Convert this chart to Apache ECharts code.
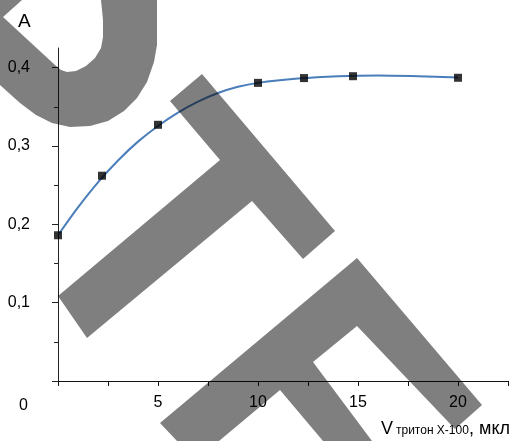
<!DOCTYPE html>
<html>
<head>
<meta charset="utf-8">
<script src="https://cdn.jsdelivr.net/npm/echarts@6/dist/echarts.min.js"></script>
<style>
  html, body { margin: 0; padding: 0; background: #fff; }
  #chart { width: 516px; height: 441px; }
</style>
</head>
<body>
<div id="chart"></div>
<script>
// Measured points: Triton X-100 volume (µl) vs absorbance A
const volume = [0, 2.2, 5, 10, 12.3, 14.75, 20];
const absorbance = [0.186, 0.262, 0.327, 0.3805, 0.3866, 0.389, 0.387];

// Fitted curve, sampled along its drawn path
const curveVolume = [0, 1, 2, 3, 4, 5, 6, 7, 8, 9, 10, 12, 14, 16, 18, 20];
const curveAbsorbance = [0.186, 0.2215, 0.2535, 0.2815, 0.3055, 0.3255, 0.3425, 0.3565, 0.3675, 0.3755, 0.3805, 0.386, 0.389, 0.390, 0.389, 0.3875];

// Axis ticks and labels
const xTicks = [0, 2.5, 5, 7.5, 10, 12.5, 15, 17.5, 20, 22.5];
const xTickLabels = [5, 10, 15, 20];
const yMajorTicks = [0, 0.1, 0.2, 0.3, 0.4];
const yMinorTicks = [0.05, 0.15, 0.25, 0.35];
const yTickLabels = [0.1, 0.2, 0.3, 0.4];
const originLabel = '0';
const yAxisTitle = 'A';
const xAxisTitleMain = 'V';
const xAxisTitleSub = 'тритон X-100';
const xAxisTitleUnit = ', мкл';

// Grey overlay shapes (pixel outlines)
const shapeRound = [[0,0],[22,0],[3,17],[55,65],[61,70],[67,72],[76,71],[86,66],[95,58],[101,48],[103,37],[103,20],[101,0],[157,0],[157,45],[154,62],[147,82],[137,98],[124,111],[108,121],[90,126],[70,127],[52,123],[36,115],[20,103],[0,85]];
const shapeT = [[202,74],[335,231],[303,259],[252,201],[87,338],[58,296],[220,160],[170,101]];
const shapeF = [[357,258],[482,405],[455,429],[357,326],[313,362],[372,441],[323,441],[280,390],[219,441],[177,441],[160,423]];

const FONT = '"Liberation Sans", Arial, sans-serif';
const chart = echarts.init(document.getElementById('chart'), null, { renderer: 'canvas' });

const fmtComma = v => {
  const r = Math.round(v * 10) / 10;
  return r.toFixed(1).replace('.', ',');
};

chart.setOption({
  animation: false,
  backgroundColor: '#fff',
  grid: { left: 58, right: 8, top: 48, bottom: 60 },
  xAxis: {
    type: 'value',
    min: 0,
    max: 22.5,
    interval: 2.5,
    axisLine: { show: true, onZero: false, lineStyle: { color: '#111', width: 1 } },
    axisTick: { show: true, inside: false, length: 5, customValues: xTicks, lineStyle: { color: '#111' } },
    axisLabel: {
      show: true, customValues: xTickLabels, margin: 14,
      fontSize: 16, color: '#000', fontFamily: FONT,
      formatter: v => String(v)
    },
    splitLine: { show: false }
  },
  yAxis: [
    {
      type: 'value',
      min: 0,
      max: 0.425,
      axisLine: { show: true, onZero: false, lineStyle: { color: '#222', width: 1 } },
      axisTick: { show: true, inside: false, length: 6, customValues: yMajorTicks, lineStyle: { color: '#222' } },
      axisLabel: {
        show: true, customValues: yTickLabels, margin: 28,
        fontSize: 16, color: '#000', fontFamily: FONT,
        formatter: fmtComma
      },
      splitLine: { show: false }
    },
    {
      type: 'value',
      min: 0,
      max: 0.425,
      position: 'left',
      axisLine: { show: false },
      axisTick: { show: true, inside: false, length: 4, customValues: yMinorTicks, lineStyle: { color: '#222' } },
      axisLabel: { show: false },
      splitLine: { show: false }
    }
  ],
  series: [
    {
      type: 'line',
      name: 'curve',
      data: curveVolume.map((x, i) => [x, curveAbsorbance[i]]),
      smooth: 0.3,
      showSymbol: false,
      symbol: 'none',
      lineStyle: { color: '#4a7ebb', width: 2 },
      z: 2
    },
    {
      type: 'scatter',
      name: 'measured',
      data: volume.map((x, i) => [x, absorbance[i]]),
      symbol: 'rect',
      symbolSize: 8,
      itemStyle: { color: '#000' },
      z: 3
    }
  ],
  graphic: [
    { type: 'text', left: 18, top: 12, style: { text: yAxisTitle, fontSize: 19, fill: '#000', fontFamily: FONT } },
    { type: 'text', left: 19, top: 398, style: { text: originLabel, fontSize: 16, fill: '#000', fontFamily: FONT } },
    { type: 'text', left: 381, top: 420, style: { text: xAxisTitleMain, fontSize: 18, fill: '#000', fontFamily: FONT } },
    { type: 'text', left: 396, top: 425, style: { text: xAxisTitleSub, fontSize: 12, fill: '#000', fontFamily: FONT } },
    { type: 'text', left: 469, top: 420, style: { text: xAxisTitleUnit, fontSize: 18, fill: '#000', fontFamily: FONT } },
    { type: 'polygon', z: 100, shape: { points: shapeRound }, style: { fill: 'rgba(0,0,0,0.5)' }, silent: true },
    { type: 'polygon', z: 100, shape: { points: shapeT }, style: { fill: 'rgba(0,0,0,0.5)' }, silent: true },
    { type: 'polygon', z: 100, shape: { points: shapeF }, style: { fill: 'rgba(0,0,0,0.5)' }, silent: true }
  ]
});
</script>
</body>
</html>
